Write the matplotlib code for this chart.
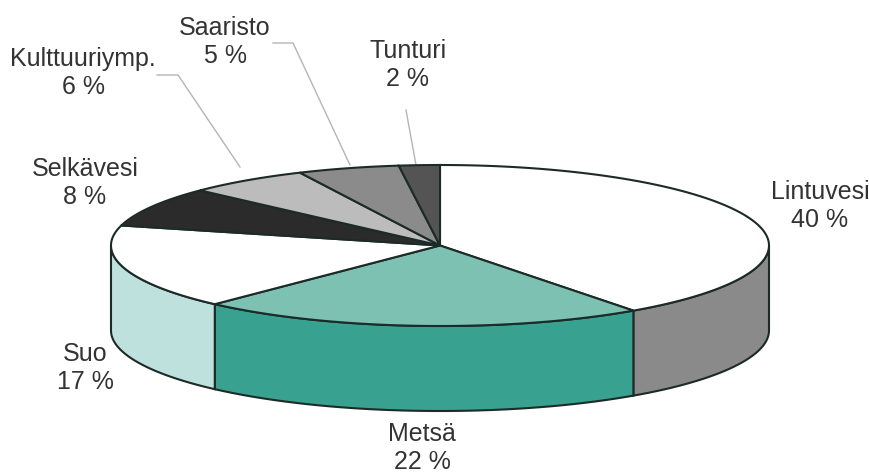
import numpy as np
import matplotlib
matplotlib.use("Agg")
import matplotlib.pyplot as plt

plt.rcParams['font.family'] = ['Liberation Sans', 'DejaVu Sans']

names = ['Lintuvesi', 'Metsä', 'Suo', 'Selkävesi', 'Kulttuuriymp.', 'Saaristo', 'Tunturi']
shares = [40, 22, 17, 8, 6, 5, 2]
top_colors = ['#ffffff', '#7dc1b3', '#ffffff', '#2b2b2b', '#bcbcbc', '#8b8b8b', '#545454']
side_colors = ['#8a8a8a', '#38a190', '#bfe1dd', '#2b2b2b', '#bcbcbc', '#8b8b8b', '#545454']
label_pos = [(820, 206), (422, 448), (85, 368), (85, 183), (83, 73), (225, 42), (408, 65)]

# pie geometry in pixels
cx, cy = 440, 245.5
rx, ry = 329, 80.5
depth = 85
edge = '#1c2b28'


def rim(a0, a1, drop=0):
    t = np.radians(np.linspace(a0, a1, 120))
    return cx + rx * np.cos(t), cy - ry * np.sin(t) + drop


fig = plt.figure(figsize=(8.69, 4.73), dpi=100)
ax = fig.add_axes([0, 0, 1, 1])
ax.set_xlim(0, 869)
ax.set_ylim(473, 0)
ax.axis('off')

edges = 90 - 3.6 * np.cumsum([0] + shares)

# outer wall first, only the front half of the ellipse shows (180..360 deg)
for i in range(len(shares)):
    a1, a0 = edges[i], edges[i + 1]
    lo, hi = max(a0, -180), min(a1, 0)
    if hi <= lo:
        continue
    x, y = rim(lo, hi)
    xb, yb = rim(hi, lo, depth)
    ax.fill(np.r_[x, xb], np.r_[y, yb], facecolor=side_colors[i], edgecolor=edge, lw=1.5, zorder=2)

# top face
for i in range(len(shares)):
    x, y = rim(edges[i + 1], edges[i])
    ax.fill(np.r_[cx, x], np.r_[cy, y], facecolor=top_colors[i], edgecolor=edge, lw=1.5, zorder=3)

# leader lines
leaders_x = [(157, 178, 240), (273, 293, 350), (406, 416)]
leaders_y = [(75, 75, 167), (43, 43, 165), (110, 165)]
for lx, ly in zip(leaders_x, leaders_y):
    ax.plot(lx, ly, color='#b5b5b5', lw=1.0, zorder=1)

for name, share, (tx, ty) in zip(names, shares, label_pos):
    ax.text(tx, ty, f'{name}\n{share} %', ha='center', va='center', fontsize=18,
            color='#333333', linespacing=1.25)

fig.savefig('out.png', dpi=100, facecolor='white')
